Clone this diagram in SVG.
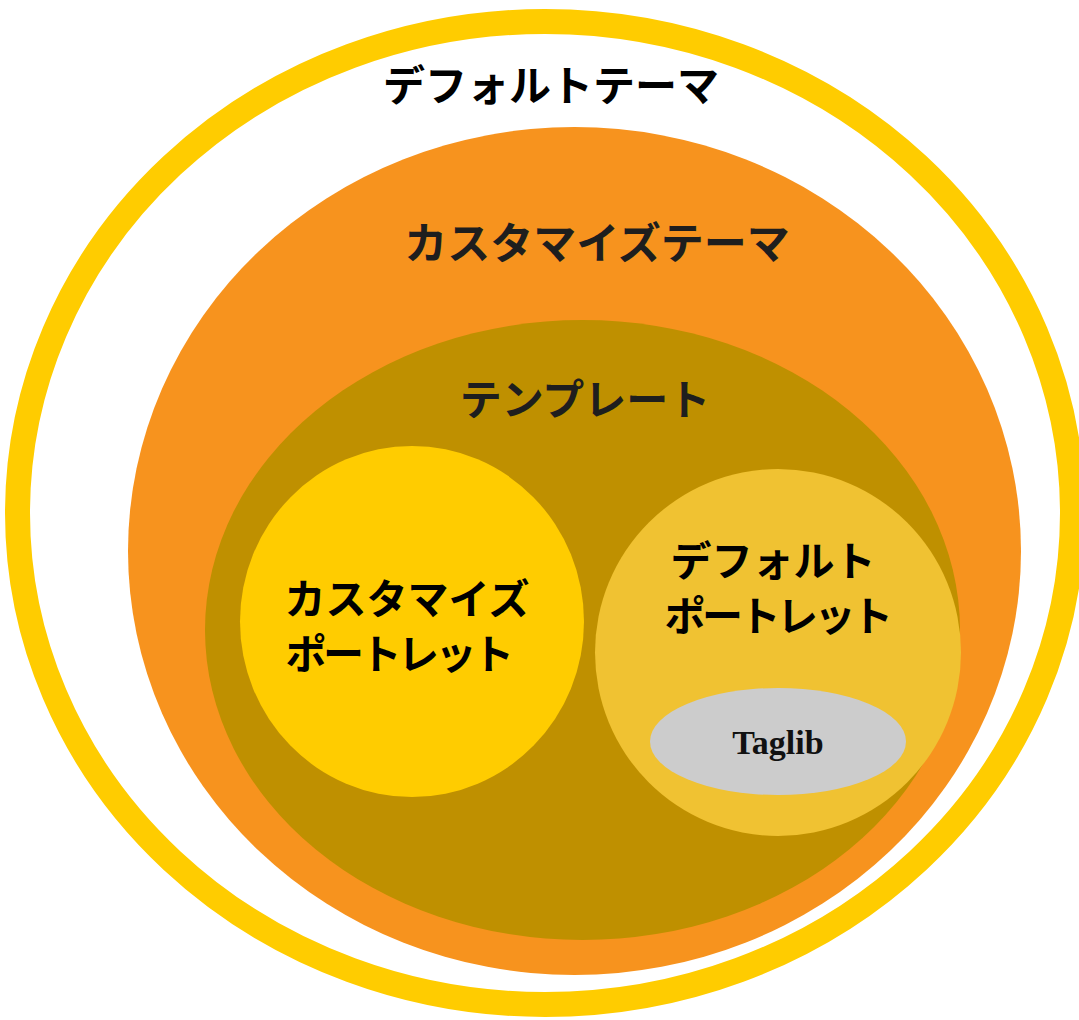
<svg xmlns="http://www.w3.org/2000/svg" width="1079" height="1020" viewBox="0 0 1079 1020">
<style>
.jp{font-family:"Noto Sans CJK JP","Noto Sans",sans-serif;font-weight:700;text-anchor:middle}
.en{font-family:"Liberation Serif",serif;font-weight:700;text-anchor:middle}
.tight{letter-spacing:-3.5px}
</style>
<rect width="1079" height="1020" fill="#FFFFFF"/>
<g id="default-theme">
<ellipse cx="545" cy="513" rx="527.5" ry="491.5" fill="none" stroke="#FFCC00" stroke-width="25"/>
<text class="jp" x="551" y="101" font-size="42" fill="#000000">デフォルトテーマ</text>
</g>
<g id="custom-theme">
<ellipse cx="574.5" cy="551" rx="446.5" ry="424" fill="#F7931E"/>
<text class="jp" x="597" y="259" font-size="43" fill="#1E1E1E">カスタマイズテーマ</text>
</g>
<g id="template">
<ellipse cx="582.5" cy="630" rx="377.5" ry="310" fill="#BF9000"/>
<text class="jp" x="585" y="415" font-size="42" fill="#1E1E1E">テンプレート</text>
</g>
<g id="custom-portlet">
<ellipse cx="412" cy="621.5" rx="172" ry="175.5" fill="#FFCC00"/>
<text class="jp" x="407" y="614" font-size="41" fill="#000000">カスタマイズ</text>
<text class="jp tight" x="398" y="669" font-size="41" fill="#000000">ポートレット</text>
</g>
<g id="default-portlet">
<ellipse cx="778" cy="652.5" rx="183" ry="183.5" fill="#F0C232"/>
<text class="jp" x="773" y="576" font-size="41" fill="#000000">デフォルト</text>
<text class="jp tight" x="777" y="631" font-size="41" fill="#000000">ポートレット</text>
</g>
<g id="taglib">
<ellipse cx="778" cy="741.5" rx="128" ry="53.5" fill="#CCCCCC"/>
<text class="en" x="778" y="754" font-size="34" fill="#111111">Taglib</text>
</g>
<g id="connectors"/>
</svg>
